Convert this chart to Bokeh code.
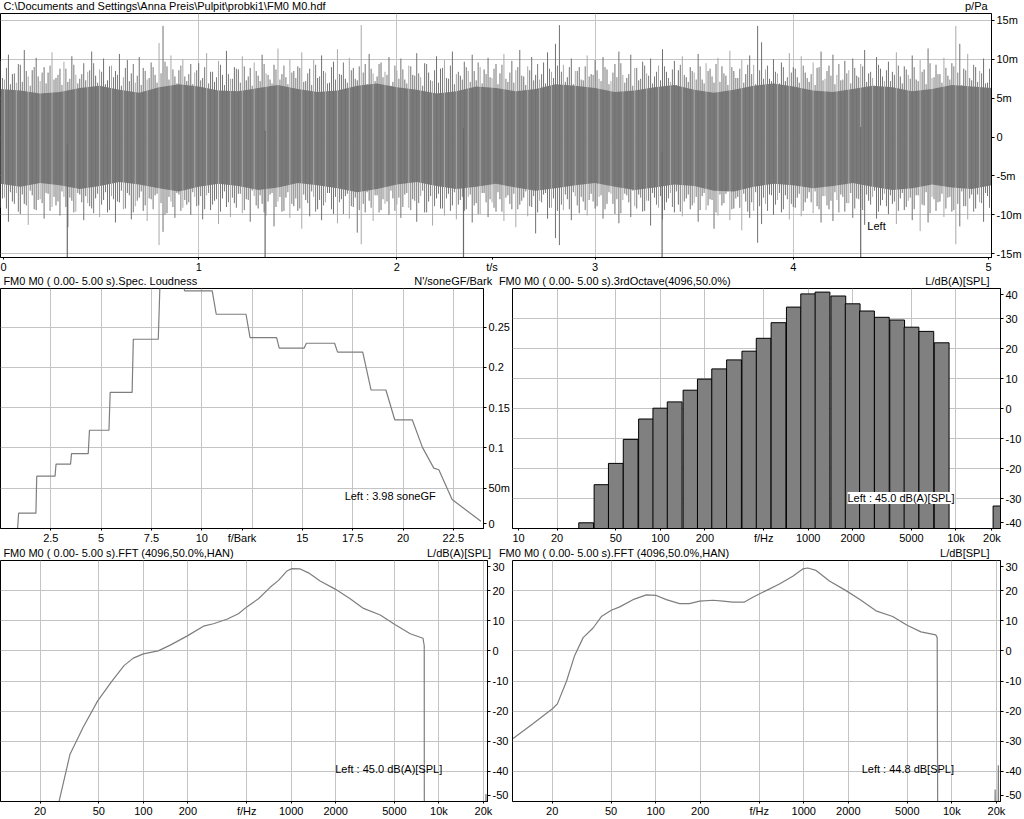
import numpy as np
from bokeh.plotting import figure
from bokeh.models import Range1d, FixedTicker, Label, ColumnDataSource
from bokeh.core.properties import value
from bokeh.layouts import column, row
from bokeh.embed import file_html
from bokeh.resources import INLINE

# ------------------------------------------------------------------ data
wave_title = r"C:\Documents and Settings\Anna Preis\Pulpit\probki1\FM0  M0.hdf"
wave_unit = "p/Pa"
wave_note = "Left"

# core envelope of the waveform (mPa), every 0.1 s
env_hi = [6.2, 6.0, 5.6, 5.8, 6.3, 6.6, 6.1, 5.7, 6.4, 6.8, 6.5, 6.0, 5.9, 6.3, 6.7, 6.2, 5.8,
          6.0, 6.6, 6.9, 6.4, 6.1, 5.6, 5.9, 6.5, 6.3, 5.9, 6.2, 6.8, 6.6, 6.3, 5.8, 6.0, 6.4,
          6.7, 6.1, 5.7, 6.1, 6.6, 6.9, 6.5, 6.0, 5.8, 6.2, 6.6, 6.4, 5.9, 6.2, 6.7, 6.5, 6.3]
env_lo = [-6.0, -6.4, -5.9, -6.2, -6.7, -6.3, -5.8, -6.1, -6.6, -7.0, -6.4, -6.0, -6.3, -6.8,
          -6.5, -5.9, -6.2, -6.6, -7.1, -6.7, -6.1, -5.8, -6.3, -6.7, -6.4, -6.0, -6.5, -6.9,
          -6.6, -6.2, -5.9, -6.4, -6.8, -6.5, -6.1, -6.3, -6.9, -7.0, -6.4, -6.0, -6.2, -6.6,
          -6.3, -5.9, -6.4, -6.8, -6.6, -6.1, -6.5, -6.7, -6.2]

# positive / negative peaks (mPa), every 0.02 s
wave_up = [
    9.8, 7.4, 10.6, 8.1, 7.0, 9.3, 11.2, 7.8, 8.6, 10.2, 7.2, 9.0, 8.3, 10.9, 7.6, 8.8, 9.7, 7.1, 10.4, 8.0, 7.5, 9.5, 8.4, 11.0, 7.9,
    8.7, 10.1, 7.3, 9.2, 8.5, 10.7, 7.7, 9.9, 8.2, 7.0, 10.3, 8.9, 7.4, 9.6, 8.0, 12.1, 14.3, 9.1, 10.5, 7.8, 8.6, 10.0, 7.2, 9.4, 8.3,
    9.5, 7.6, 10.8, 8.4, 7.1, 9.8, 8.0, 11.1, 7.5, 9.0, 8.7, 10.4, 7.3, 8.9, 9.6, 7.9, 10.6, 8.2, 7.4, 9.3, 11.4, 8.1, 7.7, 10.0, 8.5,
    9.1, 10.9, 7.2, 8.8, 9.9, 7.6, 10.5, 8.3, 7.0, 9.7, 11.3, 8.0, 7.5, 10.2, 8.9, 7.3, 14.4, 9.4, 10.7, 8.2, 7.8, 9.6, 8.4, 10.3, 7.1,
    8.6, 10.1, 7.4, 9.2, 8.0, 10.8, 7.7, 9.5, 8.3, 7.2, 10.4, 8.8, 9.9, 7.5, 11.0, 8.1, 7.9, 9.7, 8.5, 10.6, 7.3, 9.0, 8.7, 10.2, 7.6,
    9.4, 8.2, 10.7, 7.1, 9.8, 8.6, 11.2, 7.8, 9.1, 10.3, 8.0, 7.4, 9.6, 10.9, 8.4, 12.0, 14.4, 9.3, 7.7, 10.1, 8.5, 9.0, 7.3, 10.5, 8.1,
    9.9, 7.5, 10.3, 8.7, 7.2, 9.4, 11.0, 8.0, 7.6, 10.6, 8.9, 7.3, 9.7, 8.2, 10.1, 7.8, 9.2, 11.3, 8.4, 7.1, 9.8, 8.6, 10.4, 7.7, 9.0,
    8.3, 10.7, 7.4, 9.5, 8.8, 7.0, 10.2, 9.1, 7.9, 11.1, 8.5, 7.6, 9.9, 8.1, 10.5, 9.3, 14.3, 12.2, 8.7, 7.5, 10.0, 8.2, 9.6, 7.2, 10.8,
    9.0, 7.7, 10.4, 8.3, 7.1, 9.6, 8.9, 11.0, 7.5, 9.2, 10.6, 8.0, 7.3, 9.8, 8.6, 10.1, 7.9, 9.4, 11.2, 8.2, 7.6, 10.3, 8.8, 7.2, 9.7,
    8.4, 10.9, 7.8, 9.1, 8.0, 10.5, 7.4, 9.9, 8.7, 11.4, 7.6, 9.3, 8.1, 10.2, 7.9, 9.5, 14.3, 12.0, 8.8, 10.7, 7.3, 9.0, 8.5, 10.1, 7.0,
]
wave_down = [
    -9.1, -7.8, -10.9, -8.3, -7.2, -9.9, -8.6, -11.3, -7.5, -9.4, -8.0, -10.5, -7.3, -9.0, -8.8, -10.1, -7.7, -11.6, -8.2, -9.6, -7.4, -10.7, -8.5, -9.2, -7.9,
    -10.3, -8.1, -9.7, -7.6, -11.0, -8.4, -9.3, -7.2, -10.6, -8.9, -7.8, -9.5, -10.8, -8.0, -7.5, -13.9, -12.2, -9.8, -8.3, -10.4, -7.4, -9.1, -8.7, -10.0, -7.7,
    -8.8, -10.6, -7.5, -9.4, -8.2, -11.2, -7.9, -9.0, -10.3, -8.5, -7.3, -9.8, -8.0, -10.9, -7.6, -9.2, -8.6, -10.1, -7.4, -11.5, -8.3, -9.6, -7.8, -10.4, -8.9,
    -9.5, -11.8, -8.1, -10.2, -7.7, -9.3, -10.7, -8.4, -7.2, -9.9, -11.1, -8.0, -7.6, -10.5, -9.0, -12.3, -13.8, -9.7, -8.2, -10.8, -7.5, -9.4, -8.6, -10.0, -7.9,
    -8.7, -10.4, -7.4, -9.1, -8.0, -10.9, -7.6, -9.7, -8.3, -11.4, -7.9, -9.2, -10.1, -7.3, -8.8, -10.6, -8.1, -9.5, -7.7, -11.0, -8.5, -9.9, -7.2, -10.3, -8.4,
    -9.6, -8.0, -10.8, -7.5, -9.3, -11.6, -8.7, -7.8, -10.2, -9.0, -12.4, -8.2, -7.4, -10.5, -9.1, -13.0, -13.9, -9.4, -8.0, -10.7, -7.6, -9.8, -8.3, -10.1, -7.3,
    -9.2, -7.7, -10.5, -8.6, -7.3, -9.9, -11.1, -8.1, -7.5, -10.3, -8.9, -7.4, -9.6, -8.2, -11.4, -7.8, -9.1, -10.6, -8.4, -7.2, -9.7, -8.7, -10.2, -7.9, -9.3,
    -8.5, -10.9, -7.6, -9.4, -8.0, -11.8, -10.1, -8.8, -7.3, -10.7, -9.2, -7.7, -12.0, -8.3, -10.4, -9.5, -13.6, -11.2, -8.6, -7.4, -10.0, -8.1, -9.7, -7.5, -10.6,
    -9.0, -7.8, -10.2, -8.4, -7.1, -9.8, -8.9, -11.0, -7.6, -9.3, -10.8, -8.1, -7.4, -9.6, -8.5, -10.4, -7.9, -9.1, -11.3, -8.2, -7.7, -10.5, -8.8, -7.3, -9.9,
    -8.6, -11.2, -7.9, -9.4, -8.2, -10.7, -7.5, -12.1, -8.8, -11.0, -7.7, -9.5, -8.3, -10.3, -7.8, -9.6, -13.8, -11.5, -8.9, -10.6, -7.4, -9.2, -8.4, -10.9, -7.6,
]
# in-between (smaller) peaks, shifted by 0.01 s
wave_up2 = [
    7.6, 8.9, 6.8, 8.2, 9.4, 7.1, 8.5, 6.6, 9.0, 7.8, 8.3, 6.9, 9.2, 7.4, 8.0, 6.7, 8.8, 7.5, 9.3, 6.9, 8.1, 7.3, 8.6, 9.5, 7.0,
    8.4, 6.8, 9.1, 7.7, 8.0, 6.6, 8.9, 7.2, 9.4, 7.9, 6.7, 8.5, 7.6, 9.0, 7.0, 8.2, 9.7, 7.4, 8.7, 6.9, 9.2, 7.8, 8.1, 6.8, 8.6,
    7.3, 9.0, 6.9, 8.4, 7.7, 9.3, 6.7, 8.1, 7.5, 8.8, 7.0, 9.1, 7.8, 6.6, 8.5, 7.2, 9.4, 8.0, 6.9, 8.7, 7.4, 9.2, 6.8, 8.3, 7.6,
    8.9, 7.1, 8.2, 6.7, 9.3, 7.8, 8.5, 6.9, 9.0, 7.4, 8.1, 9.6, 7.0, 8.6, 7.5, 9.1, 8.3, 6.8, 8.8, 7.2, 9.4, 7.7, 8.0, 6.6, 9.2,
    7.5, 8.7, 6.9, 9.1, 7.9, 8.2, 6.6, 9.4, 7.3, 8.6, 7.0, 8.9, 7.6, 9.2, 6.8, 8.4, 7.4, 9.0, 7.1, 8.5, 9.6, 6.9, 8.1, 7.7, 8.8,
    6.8, 9.3, 7.5, 8.3, 7.0, 9.0, 7.9, 6.7, 8.6, 7.3, 9.4, 8.1, 6.9, 8.8, 7.6, 9.2, 8.4, 7.1, 9.0, 6.8, 8.5, 7.4, 9.1, 7.8, 8.0,
    8.6, 7.2, 9.0, 6.8, 8.3, 7.7, 9.5, 7.0, 8.1, 6.6, 8.9, 7.5, 9.2, 7.9, 6.9, 8.4, 7.3, 9.1, 7.6, 8.7, 6.7, 9.3, 8.0, 7.1, 8.5,
    7.4, 9.1, 6.9, 8.5, 7.8, 9.4, 7.1, 8.2, 6.7, 9.0, 7.6, 8.8, 7.0, 9.3, 8.1, 6.8, 8.6, 7.5, 9.2, 7.2, 8.4, 6.9, 9.0, 7.7, 8.3,
    8.8, 7.0, 9.2, 7.6, 8.1, 6.7, 9.0, 7.3, 8.5, 7.9, 6.8, 9.4, 7.4, 8.2, 6.9, 8.9, 7.7, 9.1, 7.1, 8.4, 6.6, 9.3, 7.8, 8.6, 7.2,
    8.0, 9.2, 6.9, 8.7, 7.5, 9.0, 7.2, 8.4, 6.8, 9.5, 7.7, 8.1, 7.0, 8.9, 7.4, 9.1, 8.3, 6.7, 8.6, 7.6, 9.3, 7.1, 8.2, 6.9, 8.8,
]
wave_down2 = [
    -7.9, -9.2, -7.1, -8.6, -9.6, -7.4, -8.8, -6.9, -9.3, -8.1, -8.5, -7.2, -9.5, -7.7, -8.3, -7.0, -9.0, -7.8, -9.7, -7.2, -8.4, -7.6, -8.9, -9.8, -7.3,
    -8.7, -7.1, -9.4, -8.0, -8.3, -6.9, -9.2, -7.5, -9.7, -8.2, -7.0, -8.8, -7.9, -9.3, -7.3, -8.5, -10.0, -7.7, -9.0, -7.2, -9.5, -8.1, -8.4, -7.1, -8.9,
    -7.6, -9.3, -7.2, -8.7, -8.0, -9.6, -7.0, -8.4, -7.8, -9.1, -7.3, -9.4, -8.1, -6.9, -8.8, -7.5, -9.7, -8.3, -7.2, -9.0, -7.7, -9.5, -7.1, -8.6, -7.9,
    -9.2, -7.4, -8.5, -7.0, -9.6, -8.1, -8.8, -7.2, -9.3, -7.7, -8.4, -9.9, -7.3, -8.9, -7.8, -9.4, -8.6, -7.1, -9.1, -7.5, -9.7, -8.0, -8.3, -6.9, -9.5,
    -7.8, -9.0, -7.2, -9.4, -8.2, -8.5, -6.9, -9.7, -7.6, -8.9, -7.3, -9.2, -7.9, -9.5, -7.1, -8.7, -7.7, -9.3, -7.4, -8.8, -9.9, -7.2, -8.4, -8.0, -9.1,
    -7.1, -9.6, -7.8, -8.6, -7.3, -9.3, -8.2, -7.0, -8.9, -7.6, -9.7, -8.4, -7.2, -9.1, -7.9, -9.5, -8.7, -7.4, -9.3, -7.1, -8.8, -7.7, -9.4, -8.1, -8.3,
    -8.9, -7.5, -9.3, -7.1, -8.6, -8.0, -9.8, -7.3, -8.4, -6.9, -9.2, -7.8, -9.5, -8.2, -7.2, -8.7, -7.6, -9.4, -7.9, -9.0, -7.0, -9.6, -8.3, -7.4, -8.8,
    -7.7, -9.4, -7.2, -8.8, -8.1, -9.7, -7.4, -8.5, -7.0, -9.3, -7.9, -9.1, -7.3, -9.6, -8.4, -7.1, -8.9, -7.8, -9.5, -7.5, -8.7, -7.2, -9.3, -8.0, -8.6,
    -9.1, -7.3, -9.5, -7.9, -8.4, -7.0, -9.3, -7.6, -8.8, -8.2, -7.1, -9.7, -7.7, -8.5, -7.2, -9.2, -8.0, -9.4, -7.4, -8.7, -6.9, -9.6, -8.1, -8.9, -7.5,
    -8.3, -9.5, -7.2, -9.0, -7.8, -9.3, -7.5, -8.7, -7.1, -9.8, -8.0, -8.4, -7.3, -9.2, -7.7, -9.4, -8.6, -7.0, -8.9, -7.9, -9.6, -7.4, -8.5, -7.2, -9.1,
]
# periodic clicks that run off the bottom of the panel
click_t = [0.337, 1.335, 2.336, 3.338, 4.340]
click_top = [-1.0, 0.8, 1.2, -2.0, 1.3]
click_bottom = [-17.0, -17.0, -17.0, -17.0, -17.0]
wave_xticks = [0.015, 1, 2, 2.48, 3, 4, 4.985]
wave_xlabels = ["0", "1", "2", "t/s", "3", "4", "5"]
wave_yticks = [-15, -10, -5, 0, 5, 10, 15]
wave_ylabels = ["-15m", "-10m", "-5m", "0", "5m", "10m", "15m"]

loud_title = "FM0  M0 ( 0.00- 5.00 s).Spec. Loudness"
loud_unit = "N'/soneGF/Bark"
loud_note = "Left : 3.98 soneGF"
loud_bark = [0.85, 0.90, 1.76, 1.80, 2.71, 2.76, 3.48, 3.53, 4.36, 4.42, 5.39, 5.45, 6.54, 6.60,
             7.84, 7.92, 9.10, 9.15, 10.52, 10.72, 12.20, 12.40, 13.72, 13.85, 15.09, 15.20,
             16.60, 16.75, 18.00, 18.41, 19.15, 19.59, 20.46, 20.96, 21.53, 21.78, 22.44, 23.87]
loud_N = [0.000, 0.019, 0.019, 0.065, 0.065, 0.080, 0.080, 0.093, 0.093, 0.122, 0.122, 0.169,
          0.169, 0.235, 0.235, 0.300, 0.300, 0.295, 0.295, 0.266, 0.266, 0.237, 0.237, 0.224,
          0.224, 0.230, 0.230, 0.219, 0.219, 0.172, 0.172, 0.135, 0.135, 0.101, 0.075, 0.073,
          0.036, 0.009]
loud_xticks = [2.5, 5, 7.5, 10, 12.0, 15, 17.5, 20, 22.5]
loud_xlabels = ["2.5", "5", "7.5", "10", "f/Bark", "15", "17.5", "20", "22.5"]
loud_yticks = [0.006, 0.05, 0.1, 0.15, 0.2, 0.25]
loud_ylabels = ["0", "50m", "0.1", "0.15", "0.2", "0.25"]

oct_title = "FM0  M0 ( 0.00- 5.00 s).3rdOctave(4096,50.0%)"
oct_unit = "L/dB(A)[SPL]"
oct_note = "Left : 45.0 dB(A)[SPL]"
oct_fc = [31.5, 40, 50, 63, 80, 100, 125, 160, 200, 250, 315, 400, 500, 630, 800, 1000, 1250,
          1600, 2000, 2500, 3150, 4000, 5000, 6300, 8000, 20000]
oct_L = [-38.1, -25.4, -18.3, -10.3, -3.5, 0.1, 2.2, 6.1, 9.8, 13.2, 16.2, 19.1, 23.4, 28.6,
         33.8, 38.2, 38.8, 37.5, 34.9, 32.5, 30.4, 29.5, 27.1, 25.7, 21.9, -32.5]
oct_xticks = [10.9, 20, 50, 100, 200, 500, 1000, 2000, 5000, 10000, 17500]
oct_xlabels = ["10", "20", "50", "100", "200", "f/Hz", "1000", "2000", "5000", "10k", "20k"]
oct_yticks = [-38, -30, -20, -10, 0, 10, 20, 30, 38]
oct_ylabels = ["-40", "-30", "-20", "-10", "0", "10", "20", "30", "40"]

fft_title = "FM0  M0 ( 0.00- 5.00 s).FFT (4096,50.0%,HAN)"
fftA_unit = "L/dB(A)[SPL]"
fftA_note = "Left : 45.0 dB(A)[SPL]"
fftA_f = [26.5, 27.0, 31.9, 39.3, 49.1, 61.1, 74.0, 85.5, 100, 126, 152, 197, 255, 298, 367,
          440, 501, 601, 721, 821, 935, 1011, 1151, 1310, 1570, 1985, 2507, 3087, 4006, 5060,
          6393, 7795, 7950, 7960, 20600, 20800, 21000]
fftA_L = [-55, -49.6, -34.3, -25.2, -16.6, -10.1, -4.9, -2.4, -1.0, 0.0, 1.9, 4.9, 8.2, 9.0,
          10.5, 12.3, 14.6, 17.3, 21.1, 23.4, 26.5, 27.3, 27.2, 25.9, 23.2, 20.5, 17.3, 14.1,
          11.9, 8.7, 5.7, 4.2, 1.7, -60, -60, -47.5, -60]

fftZ_unit = "L/dB[SPL]"
fftZ_note = "Left : 44.8 dB[SPL]"
fftZ_f = [10.9, 14.9, 20.1, 21.7, 25.0, 28.4, 32.4, 37.8, 43.0, 50.2, 57.2, 70.3, 86.5, 101,
          118, 145, 169, 198, 244, 285, 332, 398, 453, 557, 685, 843, 985, 1064, 1211, 1490,
          1929, 2436, 3074, 3985, 5025, 6180, 7798, 7960, 8000, 8030, 19500, 19600, 19700,
          20500, 20600, 20700]
fftZ_L = [-29.1, -24.1, -19.2, -17.6, -10.1, -1.5, 4.4, 7.6, 11.4, 13.5, 14.6, 17.0, 18.6,
          18.4, 17.0, 15.7, 15.7, 16.5, 16.8, 16.5, 16.2, 16.2, 17.8, 20.0, 22.2, 24.8, 27.2,
          27.5, 26.7, 23.2, 20.0, 16.8, 13.3, 11.4, 8.4, 6.3, 5.3, 4.4, -33.8, -60, -60, -46,
          -60, -60, -38, -60]
fft_xticks = [20, 50, 100, 200, 500, 1000, 2000, 5000, 10000, 20000]
fft_xlabels = ["20", "50", "100", "200", "f/Hz", "1000", "2000", "5000", "10k", "20k"]
fft_yticks = [-48, -40, -30, -20, -10, 0, 10, 20, 28]
fft_ylabels = ["-50", "-40", "-30", "-20", "-10", "0", "10", "20", "30"]

freq_grid = [20, 50, 100, 200, 500, 1000, 2000, 5000, 10000, 20000]

# ------------------------------------------------------------------ style
FONT = "Liberation Sans"
FS = "11px"
GRID = "#c4c4c4"
CURVE = "#7e7e7e"


def panel(w, h, fw, fh, top, xr, yr, xtype="linear"):
    p = figure(width=w, height=h, x_range=xr, y_range=yr, x_axis_type=xtype,
               y_axis_location="right", output_backend="svg", toolbar_location=None,
               min_border_left=0, min_border_right=w - fw, min_border_top=top,
               min_border_bottom=h - top - fh)
    p.title = None
    p.outline_line_color = "black"
    p.outline_line_alpha = 1
    p.outline_line_width = 1
    p.background_fill_color = "white"
    p.border_fill_color = "white"
    for ax in p.axis:
        ax.axis_line_color = "black"
        ax.major_tick_line_color = "black"
        ax.minor_tick_line_color = None
        ax.major_label_text_font = FONT
        ax.major_label_text_font_size = FS
        ax.major_label_text_color = "black"
    p.xaxis.major_tick_out = 2
    p.xaxis.major_tick_in = 0
    p.xaxis.major_label_standoff = 1
    p.yaxis.major_tick_out = 3
    p.yaxis.major_tick_in = 0
    p.yaxis.major_label_standoff = 2
    p.grid.grid_line_color = GRID
    p.grid.grid_line_width = 1
    return p


def set_ticks(p, xt, xl, yt, yl, xgrid, ygrid):
    p.xaxis.ticker = FixedTicker(ticks=xt)
    p.xaxis.major_label_overrides = {t: l for t, l in zip(xt, xl)}
    p.yaxis.ticker = FixedTicker(ticks=yt)
    p.yaxis.major_label_overrides = {t: l for t, l in zip(yt, yl)}
    p.xgrid.ticker = FixedTicker(ticks=xgrid)
    p.ygrid.ticker = FixedTicker(ticks=ygrid)


def strip(w, h, base, items):
    s = figure(width=w, height=h, x_range=Range1d(0, w), y_range=Range1d(0, h),
               x_axis_location=None, y_axis_location=None, output_backend="svg",
               toolbar_location=None, min_border=0)
    s.title = None
    s.grid.visible = False
    s.outline_line_color = None
    s.background_fill_color = "white"
    s.border_fill_color = "white"
    for x, txt, align in items:
        s.text(x=[x], y=[base], text=[txt], text_align=align, text_baseline="middle",
               text_font=value(FONT), text_font_size=value(FS), text_color="black")
    return s


def note(p, x, y, text, bg=None):
    p.add_layout(Label(x=x, y=y, text=text, text_align="left", text_baseline="middle",
                       text_font=FONT, text_font_size=FS, text_color="black",
                       background_fill_color=bg, background_fill_alpha=1.0 if bg else 0.0))


W = 1024
HALF = 512

# ------------------------------------------------------------------ top: waveform
s0 = strip(W, 12, 6.5, [(3, wave_title, "left"), (W - 4, wave_unit, "right")])
pw = panel(W, 263, 993, 245, 1, Range1d(0, 5), Range1d(-15.5, 15.9))
set_ticks(pw, wave_xticks, wave_xlabels, wave_yticks, wave_ylabels, [1, 2, 3, 4], wave_yticks)
env_t = np.linspace(0, 5, len(env_hi))
pw.varea(x=env_t, y1=env_lo, y2=env_hi, fill_color="#7b7b7b")
n = len(wave_up)
step = 5.0 / n
wave_t = np.arange(n) * step
wave_t2 = wave_t + step / 2
zeros = np.zeros(n)
src2 = ColumnDataSource(dict(t=wave_t2, up=wave_up2, dn=wave_down2, z=zeros))
pw.segment(x0="t", y0="z", x1="t", y1="up", line_color="#7a7a7a", line_width=1.0, source=src2)
pw.segment(x0="t", y0="z", x1="t", y1="dn", line_color="#7a7a7a", line_width=1.0, source=src2)
cols = ["#a9a9a9" if i % 3 == 1 else "#717171" for i in range(n)]
src = ColumnDataSource(dict(t=wave_t, up=wave_up, dn=wave_down, z=zeros, c=cols))
pw.segment(x0="t", y0="z", x1="t", y1="up", line_color="c", line_width=1.0, source=src)
pw.segment(x0="t", y0="z", x1="t", y1="dn", line_color="c", line_width=1.0, source=src)
pw.segment(x0=click_t, y0=click_top, x1=click_t, y1=click_bottom, line_color="#6a6a6a",
           line_width=1.2)
pw.add_layout(Label(x=4.42, y=-11.5, text=wave_note, text_align="center",
                    text_baseline="middle", text_font=FONT, text_font_size=FS,
                    text_color="black"))

# ------------------------------------------------------------------ middle row
s1 = strip(W, 12, 6.5, [(3, loud_title, "left"), (HALF - 4, loud_unit, "right"),
                        (HALF + 3, oct_title, "left"), (W - 2, oct_unit, "right")])
pl = panel(HALF, 259, 484, 244, 1, Range1d(0, 24), Range1d(0, 0.298))
set_ticks(pl, loud_xticks, loud_xlabels, loud_yticks, loud_ylabels,
          [2.5, 5, 7.5, 10, 12.5, 15, 17.5, 20, 22.5], [0.05, 0.1, 0.15, 0.2, 0.25])
pl.line(loud_bark, loud_N, line_color=CURVE, line_width=1.2)
note(pl, 17.1, 0.040, loud_note)

po = panel(HALF, 259, 488, 244, 1, Range1d(10, 20000), Range1d(-40, 40), xtype="log")
set_ticks(po, oct_xticks, oct_xlabels, oct_yticks, oct_ylabels, freq_grid,
          [-30, -20, -10, 0, 10, 20, 30])
fc = np.array(oct_fc, dtype=float)
po.quad(left=fc * 10 ** -0.05, right=fc * 10 ** 0.05, bottom=-40, top=oct_L,
        fill_color="#808080", line_color="black", line_width=1)
note(po, 1845, -29.8, oct_note, bg="white")

# ------------------------------------------------------------------ bottom row
s2 = strip(W, 13, 7.0, [(3, fft_title, "left"), (HALF - 5, fftA_unit, "right"),
                        (HALF + 3, fft_title, "left"), (W - 2, fftZ_unit, "right")])
fft_ygrid = [-40, -30, -20, -10, 0, 10, 20]
pa = panel(HALF, 260, 487, 247, 1, Range1d(10.8, 21300), Range1d(-50, 30), xtype="log")
set_ticks(pa, fft_xticks, fft_xlabels, fft_yticks, fft_ylabels, freq_grid, fft_ygrid)
pa.line(fftA_f, fftA_L, line_color=CURVE, line_width=1.2)
note(pa, 1986, -39.3, fftA_note)

pz = panel(HALF, 260, 488, 247, 1, Range1d(10.8, 21300), Range1d(-50, 30), xtype="log")
set_ticks(pz, fft_xticks, fft_xlabels, fft_yticks, fft_ylabels, freq_grid, fft_ygrid)
pz.line(fftZ_f, fftZ_L, line_color=CURVE, line_width=1.2)
note(pz, 2460, -39.3, fftZ_note)

layout = column(s0, pw, s1, row(pl, po), s2, row(pa, pz))
open("out.html", "w").write(file_html(layout, INLINE))
